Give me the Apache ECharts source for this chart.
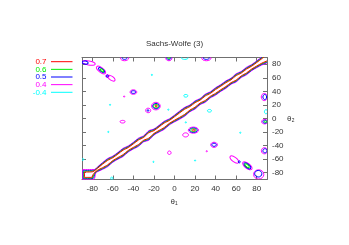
<!DOCTYPE html>
<html><head><meta charset="utf-8">
<script src="https://cdn.jsdelivr.net/npm/echarts@6/dist/echarts.min.js"></script>
<style>html,body{margin:0;padding:0;background:#fff}#c{width:349px;height:245px}</style>
</head><body><div id="c"></div>
<script>
// ---- data ----
const levels = ['0.7', '0.6', '0.5', '0.4', '-0.4'];
const tickVals = [-80, -60, -40, -20, 0, 20, 40, 60, 80];
// diagonal ridge: sample positions along theta1 = theta2 and half-widths (in theta2 units) per contour level
const diagX = [-75,-70,-65,-60,-55,-50,-45,-40,-35,-30,-25,-20,-15,-10,-5,0,5,10,15,20,25,30,35,40,45,50,55,60,65,70,75,80,85,90];
const w04 = [3.5,5,6,4.5,5,6,4.5,5,6,4.5,7,4.5,5,6,4.5,5,6,6.5,5,6,4.5,6,4.5,5.5,5,5.5,4.5,6,4.5,5.5,4.5,5,6,8];
const w05 = [2.8,4.2,5.1,3.7,4.2,5.1,3.7,4.2,5.1,3.7,6,3.7,4.2,5.1,3.7,4.2,5.1,5.6,4.2,5.1,3.7,5.1,3.7,4.6,4.2,4.6,3.7,5.1,3.7,4.6,3.7,4.2,5.1,7];
const w06 = [2.1,3.4,4.2,2.9,3.4,4.2,2.9,3.4,4.2,2.9,5,2.9,3.4,4.2,2.9,3.4,4.2,4.7,3.4,4.2,2.9,4.2,2.9,3.7,3.4,3.7,2.9,4.2,2.9,3.7,2.9,3.4,4.2,6];
const w07 = [1.4,2.6,3.3,2.1,2.6,3.3,2.1,2.6,3.3,2.1,4,2.1,2.6,3.3,2.1,2.6,3.3,3.8,2.6,3.3,2.1,3.3,2.1,2.8,2.6,2.8,2.1,3.3,2.1,2.8,2.1,2.6,3.3,5];
// bottom-left corner plateau of the ridge, per level (theta1, theta2)
const corner04 = [[-78,-75.3],[-89.4,-75.5],[-89.4,-89.4],[-78.5,-89.4],[-76.5,-80]];
const corner05 = [[-78.5,-76.5],[-88.8,-76.7],[-88.8,-88.6],[-79.3,-88.6],[-77.3,-80.5]];
const corner06 = [[-79,-77.5],[-88.2,-78],[-88.2,-87.8],[-80,-87.8],[-78,-81]];
const corner07 = [[-79.5,-78.5],[-87.6,-79.3],[-87.6,-86.9],[-80.8,-86.9],[-78.8,-81.5]];
// isolated contour islands: [theta1, theta2, radius a, radius b, tilt deg]
const blobs07 = [[-17.8,18.5,1.0,0.8,0],[18.6,-17.2,1.2,0.8,0]];
const blobs06 = [[-70.5,71,2,0.9,38],[-5.5,89.7,1.2,1.2,0],[-18,18.3,2.3,1.8,0],[18.4,-17.2,2.6,1.5,0],[70.6,-69.6,2.6,1.1,38],[88.5,-4.7,1.2,0.8,0]];
const blobs05 = [[-87,82.5,3,1.5,10],[-71,71.5,3.5,1.4,38],[-65.3,62.6,1,1,0],[-48.6,89.5,2.5,1.5,0],[-5.5,89.5,2,1.8,0],[31,89.5,3,1.5,0],[-40,39,2.2,1.3,0],[-18,18.3,3.2,2.6,0],[-25.8,11.8,0.8,0.8,0],[18.4,-17.2,3.8,2.2,0],[38.5,-38.8,2.2,1.5,0],[63,-64,1,1,0],[70.9,-69.8,4,1.8,38],[81.5,-81.5,3.5,3.2,0],[87.8,31.7,1.8,2.5,0],[88,-4.7,2,1.5,0],[88,-47.6,2,2,0]];
const blobs04 = [[-83.5,82,6.5,2,10],[-71.5,71.5,5.3,2.2,38],[-65.3,62.6,1.6,1.5,0],[-61.3,59.4,4,2,35],[-48.6,89,4,2.5,0],[-5.5,89,3,2.5,0],[31,89,4.5,2.5,0],[-40,39,3.3,2.2,0],[-18.1,18.3,4.2,3.7,0],[-25.6,11.9,2.5,2.2,0],[18.4,-17.2,5,3,0],[10.8,-24.2,2.8,2,0],[38.5,-38.8,3.3,2.5,0],[58.2,-60.5,5,2.2,35],[70.9,-69.8,5.5,2.5,38],[81.9,-82.5,5,4.5,0],[87.4,31.7,3,3.5,0],[87.7,-4.7,3,2.2,0],[87.5,-47.6,3,3,0],[-50.5,-4.7,2.5,1.3,0],[-5,-50.5,1.7,1.7,0],[31.4,-48.3,0.6,0.6,0],[-49,32.4,0.6,0.6,0]];
const blobsN04 = [[10,89.5,3.3,1.5,0],[-22,64.3,0.6,0.6,0],[11,33.5,2,1.3,0],[-6,13,0.6,0.6,0],[34,11.4,2,1.3,0],[11,-5.7,0.6,0.6,0],[-64.4,-19.8,0.5,0.5,0],[64,-21,0.6,0.6,0],[-20.5,-64,0.5,0.5,0],[20,-62,0.5,0.5,0],[-62.7,20.2,0.4,0.4,0],[89,10,1.5,2,0],[-89.5,-60.5,1.3,0.8,0],[-61,-88.5,1,1.5,0]];

// ---- styling ----
const colors = {'0.7':'#ff0000','0.6':'#00ee00','0.5':'#0000ff','0.4':'#ff00ff','-0.4':'#00ffff'};
const FONT = 'Liberation Sans, Arial, sans-serif';
const axisCol = '#707070';

function bandSeries(level, w, corner) {
  const up = diagX.map((x, i) => [x, x + w[i]]).reverse();
  const lo = diagX.map((x, i) => [x, x - w[i]]);
  const d = up.concat(corner, lo);
  return {
    type: 'line', name: level, data: d, symbol: 'none', smooth: 0.25, clip: true, silent: true,
    lineStyle: {color: colors[level], width: 1}, xAxisIndex: 0, yAxisIndex: 0, z: 3
  };
}
function blobSeries(level, data) {
  const col = colors[level];
  return {
    type: 'custom', name: level, data: data, clip: true, silent: true, xAxisIndex: 0, yAxisIndex: 0, z: 3,
    encode: {x: 0, y: 1},
    renderItem: function (params, api) {
      const c = api.coord([api.value(0), api.value(1)]);
      const unit = api.size([1, 0])[0];
      return {
        type: 'ellipse', x: c[0], y: c[1], rotation: -api.value(4) * Math.PI / 180,
        shape: {cx: 0, cy: 0, rx: Math.max(api.value(2) * unit, 0.6), ry: Math.max(api.value(3) * unit, 0.6)},
        style: {fill: null, stroke: col, lineWidth: 1}
      };
    }
  };
}

const series = [
  bandSeries('0.4', w04, corner04), bandSeries('0.5', w05, corner05),
  bandSeries('0.6', w06, corner06), bandSeries('0.7', w07, corner07),
  blobSeries('0.4', blobs04), blobSeries('0.5', blobs05), blobSeries('0.6', blobs06),
  blobSeries('0.7', blobs07), blobSeries('-0.4', blobsN04)
];

function mkAxis(pos, labels) {
  return {
    type: 'value', min: -90, max: 90, position: pos,
    axisLine: {show: true, onZero: false, lineStyle: {color: axisCol, width: 1}},
    axisTick: {show: true, inside: true, length: 4, customValues: tickVals, lineStyle: {color: axisCol}},
    axisLabel: {show: labels, customValues: tickVals, fontSize: 8, fontFamily: FONT, color: '#333', margin: 5},
    splitLine: {show: false}
  };
}

const graphics = [];
levels.forEach((lv, i) => {
  const y = 61.7 + i * 7.65;
  graphics.push({type: 'text', x: 46.5, y: y, style: {text: lv, fill: colors[lv], font: '8px ' + FONT, align: 'right', verticalAlign: 'middle'}});
  graphics.push({type: 'line', shape: {x1: 51, y1: y, x2: 72.5, y2: y}, style: {stroke: colors[lv], lineWidth: 1}});
});
graphics.push({type: 'text', x: 174, y: 202, style: {text: 'θ₁', fill: '#333', font: '8px ' + FONT, align: 'center', verticalAlign: 'middle'}});
graphics.push({type: 'text', x: 287, y: 119, style: {text: 'θ₂', fill: '#333', font: '8px ' + FONT, align: 'left', verticalAlign: 'middle'}});

const chart = echarts.init(document.getElementById('c'), null, {renderer: 'canvas'});
chart.setOption({
  animation: false,
  backgroundColor: '#fff',
  title: {text: 'Sachs-Wolfe (3)', left: 'center', top: 39.5, padding: 0,
    textStyle: {fontSize: 8, fontWeight: 'normal', color: '#333', fontFamily: FONT}},
  grid: {left: 82, right: 82, top: 57.5, bottom: 65.5, containLabel: false},
  xAxis: [mkAxis('bottom', true), mkAxis('top', false)],
  yAxis: [mkAxis('right', true), mkAxis('left', false)],
  graphic: graphics,
  series: series
});
</script></body></html>
